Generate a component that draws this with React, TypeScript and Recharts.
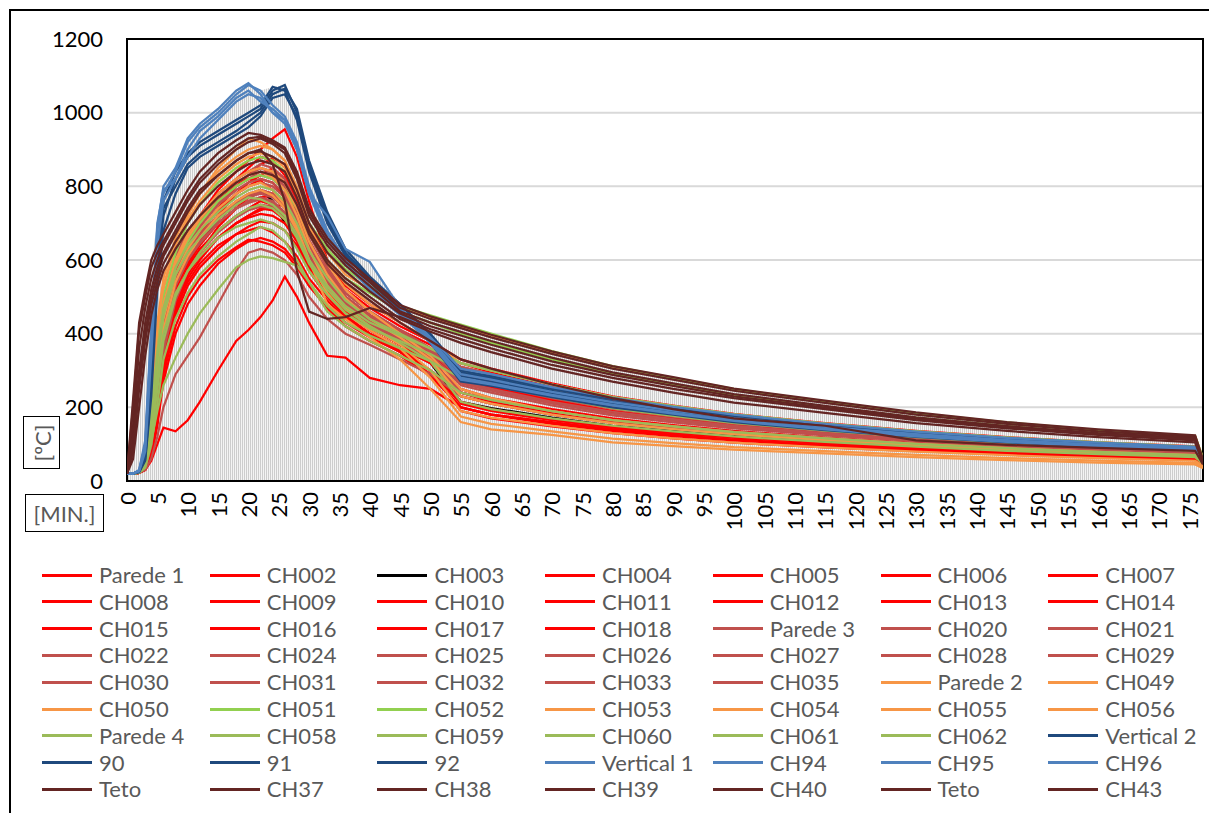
import React from 'react';
import { ComposedChart, Line, Area, XAxis, YAxis, CartesianGrid, Legend, ReferenceArea } from 'recharts';

// time in minutes
const T = [0, 1, 2, 3, 4, 5, 6, 8, 10, 12, 15, 18, 20, 22, 24, 26, 28, 30, 33, 36, 40, 45, 50, 55, 60, 70, 80, 90, 100, 115, 130, 145, 160, 176, 177.3];

const yTicks = [0, 200, 400, 600, 800, 1000, 1200];
const xTicks = [0, 5, 10, 15, 20, 25, 30, 35, 40, 45, 50, 55, 60, 65, 70, 75, 80, 85, 90, 95, 100, 105, 110, 115, 120, 125, 130, 135, 140, 145, 150, 155, 160, 165, 170, 175];

// ---- red family ----
const parede1 = [20, 20, 22, 30, 55, 100, 145, 135, 165, 215, 300, 380, 410, 445, 490, 555, 500, 430, 340, 335, 280, 260, 250, 200, 180, 160, 140, 125, 112, 98, 85, 75, 66, 58, 45];
const ch002 = [20, 20, 25, 45, 120, 260, 400, 560, 660, 720, 790, 840, 870, 900, 930, 955, 880, 760, 600, 520, 470, 420, 380, 300, 270, 230, 200, 180, 160, 140, 120, 105, 95, 85, 60];
const ch003 = [20, 20, 24, 42, 120, 260, 390, 520, 600, 650, 710, 750, 770, 790, 760, 700, 660, 600, 520, 465, 420, 370, 320, 215, 198, 172, 150, 136, 122, 106, 93, 82, 73, 65, 48];
const ch004 = [20, 20, 24, 40, 110, 240, 380, 540, 640, 700, 760, 820, 850, 880, 870, 830, 760, 680, 580, 500, 450, 400, 350, 270, 250, 215, 185, 165, 150, 130, 112, 98, 88, 78, 55];
const ch005 = [20, 21, 25, 50, 150, 300, 430, 560, 630, 680, 730, 780, 810, 830, 850, 820, 740, 650, 560, 490, 440, 390, 330, 230, 210, 180, 160, 145, 130, 115, 100, 88, 78, 70, 50];
const ch006 = [20, 20, 23, 35, 90, 200, 330, 480, 580, 650, 720, 780, 800, 820, 810, 770, 700, 620, 530, 470, 420, 370, 320, 240, 215, 185, 165, 148, 132, 116, 102, 90, 80, 71, 52];
const ch007 = [20, 20, 22, 30, 70, 160, 290, 450, 560, 620, 690, 740, 770, 790, 780, 750, 690, 610, 520, 460, 410, 360, 300, 210, 190, 165, 145, 130, 118, 104, 92, 81, 72, 64, 48];
const ch008 = [20, 20, 24, 45, 130, 270, 400, 520, 590, 640, 700, 740, 760, 770, 775, 760, 700, 620, 530, 470, 420, 370, 320, 250, 225, 195, 170, 152, 136, 118, 103, 91, 81, 72, 52];
const ch009 = [20, 20, 23, 38, 100, 220, 360, 500, 580, 630, 680, 720, 740, 760, 750, 720, 670, 600, 540, 490, 450, 410, 370, 320, 295, 255, 220, 196, 176, 152, 132, 116, 103, 92, 62];
const ch010 = [20, 20, 22, 32, 80, 180, 310, 460, 550, 600, 660, 700, 720, 740, 735, 710, 660, 590, 510, 450, 400, 350, 290, 200, 180, 158, 140, 125, 112, 98, 87, 77, 68, 61, 46];
const ch011 = [20, 20, 25, 48, 140, 280, 400, 510, 570, 610, 660, 700, 715, 725, 720, 700, 650, 580, 510, 460, 420, 380, 340, 290, 270, 230, 200, 178, 160, 138, 120, 105, 93, 83, 58];
const ch012 = [20, 20, 22, 34, 85, 190, 320, 450, 530, 580, 630, 670, 690, 705, 700, 680, 640, 570, 500, 445, 400, 355, 300, 215, 195, 168, 148, 132, 118, 103, 91, 80, 71, 63, 47];
const ch013 = [20, 20, 23, 36, 95, 210, 340, 470, 540, 590, 640, 670, 680, 690, 675, 650, 610, 550, 490, 440, 400, 360, 320, 275, 255, 220, 190, 170, 152, 132, 115, 101, 90, 80, 56];
const ch014 = [20, 20, 22, 30, 65, 150, 270, 400, 480, 530, 590, 630, 650, 660, 650, 630, 590, 530, 470, 420, 380, 340, 285, 200, 180, 155, 136, 122, 110, 96, 85, 75, 67, 60, 45];
const ch015 = [20, 20, 22, 32, 75, 170, 290, 420, 500, 550, 600, 635, 655, 650, 640, 620, 580, 530, 475, 430, 390, 350, 300, 240, 220, 190, 165, 148, 133, 116, 101, 89, 79, 70, 50];
const ch016 = [20, 20, 24, 42, 120, 250, 390, 530, 610, 670, 740, 800, 830, 860, 875, 860, 790, 700, 600, 530, 480, 430, 380, 330, 305, 265, 230, 205, 182, 157, 136, 119, 105, 94, 64];
const ch017 = [20, 20, 25, 52, 160, 320, 450, 570, 640, 690, 760, 810, 820, 815, 790, 750, 690, 610, 520, 460, 410, 360, 300, 190, 170, 148, 130, 116, 104, 91, 81, 72, 64, 57, 44];
const ch018 = [20, 20, 23, 38, 100, 220, 350, 480, 560, 610, 660, 700, 720, 735, 745, 750, 700, 630, 550, 490, 440, 400, 350, 280, 255, 220, 190, 170, 152, 132, 115, 101, 90, 80, 56];

// ---- dusty red family ----
const parede3 = [20, 20, 22, 30, 60, 120, 200, 290, 340, 390, 480, 570, 620, 630, 620, 600, 560, 500, 440, 400, 370, 330, 290, 230, 210, 180, 158, 142, 127, 110, 96, 85, 75, 67, 50];
const ch020 = [20, 20, 25, 50, 160, 320, 460, 590, 660, 710, 770, 810, 830, 850, 840, 810, 750, 670, 580, 510, 460, 410, 360, 300, 280, 240, 210, 188, 168, 146, 127, 111, 99, 88, 60];
const ch021 = [20, 20, 24, 45, 140, 290, 430, 560, 630, 680, 740, 780, 800, 810, 800, 770, 710, 630, 550, 490, 440, 400, 355, 310, 290, 250, 218, 195, 174, 150, 130, 114, 101, 90, 62];
const ch022 = [20, 20, 26, 60, 190, 360, 490, 610, 680, 720, 780, 820, 840, 850, 835, 800, 730, 650, 560, 500, 450, 410, 360, 300, 275, 238, 207, 185, 165, 143, 124, 109, 97, 86, 59];
const ch024 = [20, 20, 23, 40, 120, 260, 400, 530, 600, 650, 700, 740, 760, 770, 760, 730, 680, 610, 540, 480, 430, 390, 340, 270, 250, 215, 188, 168, 150, 130, 113, 99, 88, 78, 55];
const ch025 = [20, 20, 24, 44, 135, 280, 420, 550, 620, 660, 710, 750, 770, 780, 770, 740, 690, 620, 540, 480, 430, 385, 330, 240, 220, 190, 166, 149, 134, 117, 102, 90, 80, 71, 51];
const ch026 = [20, 20, 25, 55, 170, 330, 460, 580, 650, 700, 760, 800, 820, 830, 820, 790, 730, 650, 570, 500, 450, 400, 350, 280, 260, 225, 196, 175, 156, 135, 117, 103, 91, 81, 57];
const ch027 = [20, 20, 22, 35, 95, 210, 350, 490, 570, 620, 680, 720, 740, 750, 745, 720, 670, 600, 530, 475, 430, 390, 345, 300, 280, 245, 214, 191, 171, 148, 128, 112, 99, 88, 60];
const ch028 = [20, 20, 24, 48, 150, 300, 440, 570, 640, 690, 750, 790, 810, 820, 810, 780, 720, 640, 560, 495, 445, 400, 350, 290, 270, 232, 202, 180, 161, 139, 121, 106, 94, 84, 58];
const ch029 = [20, 20, 25, 52, 160, 310, 450, 570, 630, 670, 720, 760, 780, 790, 780, 750, 700, 625, 545, 485, 435, 390, 340, 260, 240, 205, 178, 159, 143, 124, 108, 95, 84, 75, 53];
const ch030 = [20, 20, 23, 42, 125, 265, 400, 530, 600, 645, 700, 740, 755, 765, 755, 725, 675, 605, 535, 478, 430, 385, 335, 265, 245, 210, 183, 164, 147, 128, 111, 97, 86, 77, 54];
const ch031 = [20, 20, 26, 58, 180, 340, 470, 590, 660, 710, 780, 820, 840, 860, 850, 820, 750, 670, 580, 510, 460, 410, 360, 310, 290, 250, 218, 195, 174, 150, 130, 114, 101, 90, 62];
const ch032 = [20, 20, 24, 46, 140, 285, 420, 545, 615, 660, 715, 755, 775, 785, 775, 745, 695, 620, 545, 485, 435, 390, 345, 290, 270, 232, 202, 180, 161, 139, 121, 106, 94, 84, 58];
const ch033 = [20, 20, 22, 36, 100, 220, 360, 495, 570, 620, 675, 715, 735, 745, 740, 715, 665, 595, 525, 470, 425, 380, 330, 240, 220, 190, 165, 148, 133, 116, 101, 89, 79, 70, 50];
const ch035 = [20, 20, 25, 50, 155, 305, 445, 575, 645, 695, 755, 800, 820, 840, 830, 800, 740, 655, 565, 500, 450, 405, 355, 290, 270, 233, 203, 181, 162, 140, 122, 107, 95, 85, 59];

// ---- orange family ----
const parede2 = [20, 20, 28, 80, 260, 430, 550, 660, 730, 780, 840, 880, 900, 910, 900, 870, 800, 700, 620, 560, 520, 470, 445, 420, 395, 350, 310, 278, 248, 215, 182, 157, 137, 122, 62];
const ch049 = [20, 20, 26, 65, 220, 390, 520, 640, 720, 780, 850, 900, 930, 920, 900, 870, 790, 690, 590, 520, 460, 400, 340, 250, 225, 190, 165, 148, 133, 116, 101, 89, 79, 70, 50];
const ch050 = [20, 20, 24, 48, 150, 300, 440, 560, 630, 680, 740, 780, 800, 810, 790, 750, 690, 600, 480, 440, 390, 330, 250, 160, 140, 125, 105, 95, 85, 75, 65, 57, 50, 45, 35];
const ch053 = [20, 20, 25, 55, 180, 340, 470, 590, 660, 710, 770, 810, 830, 840, 825, 790, 720, 630, 530, 470, 420, 370, 300, 190, 172, 150, 130, 116, 104, 91, 80, 70, 62, 55, 42];
const ch054 = [20, 20, 23, 42, 130, 270, 410, 540, 610, 660, 720, 760, 780, 790, 775, 740, 680, 600, 510, 455, 410, 360, 280, 175, 155, 135, 115, 103, 92, 81, 71, 62, 55, 49, 38];
const ch055 = [20, 20, 27, 70, 240, 410, 530, 640, 710, 760, 820, 860, 880, 890, 880, 850, 780, 690, 600, 535, 480, 430, 380, 320, 300, 262, 228, 203, 181, 156, 135, 118, 105, 93, 63];
const ch056 = [20, 20, 25, 58, 190, 350, 480, 600, 670, 720, 780, 820, 840, 850, 840, 810, 740, 650, 560, 495, 440, 390, 330, 230, 210, 180, 157, 141, 127, 111, 97, 85, 76, 67, 48];

// ---- light green ----
const ch051 = [20, 20, 26, 62, 200, 370, 500, 620, 700, 750, 810, 850, 870, 880, 870, 840, 780, 700, 630, 575, 530, 475, 450, 425, 400, 353, 312, 280, 250, 216, 184, 159, 138, 122, 62];
const ch052 = [20, 20, 24, 50, 160, 320, 450, 580, 650, 700, 760, 800, 820, 830, 820, 790, 740, 670, 600, 550, 510, 460, 430, 400, 375, 330, 292, 262, 234, 202, 172, 149, 130, 115, 58];

// ---- olive green ----
const parede4 = [20, 20, 23, 40, 110, 190, 260, 335, 400, 455, 520, 580, 600, 610, 605, 595, 585, 540, 460, 420, 380, 340, 300, 240, 220, 190, 165, 148, 133, 116, 101, 89, 79, 70, 50];
const ch058 = [20, 20, 25, 55, 170, 330, 450, 560, 620, 660, 710, 750, 770, 765, 750, 720, 670, 600, 530, 475, 430, 395, 360, 320, 300, 262, 228, 203, 181, 156, 135, 118, 105, 93, 63];
const ch059 = [20, 20, 24, 46, 140, 280, 400, 510, 570, 610, 660, 690, 700, 710, 700, 680, 630, 570, 505, 455, 415, 380, 345, 300, 282, 245, 213, 190, 170, 147, 127, 111, 99, 88, 60];
const ch060 = [20, 20, 22, 36, 100, 210, 330, 440, 510, 560, 610, 650, 670, 690, 680, 650, 600, 540, 475, 430, 395, 360, 325, 280, 262, 228, 198, 177, 158, 137, 119, 104, 93, 82, 57];
const ch061 = [20, 20, 26, 60, 190, 350, 470, 580, 640, 680, 730, 770, 790, 800, 790, 760, 700, 625, 550, 490, 440, 400, 360, 320, 300, 262, 228, 203, 181, 156, 135, 118, 105, 93, 63];
const ch062 = [20, 20, 23, 42, 120, 250, 380, 500, 570, 620, 680, 720, 740, 750, 740, 710, 660, 590, 520, 465, 420, 375, 325, 215, 195, 170, 150, 135, 121, 106, 93, 82, 73, 65, 48];

// ---- dark blue ----
const vertical2 = [20, 20, 25, 60, 260, 560, 720, 820, 880, 910, 940, 970, 990, 1010, 1060, 1075, 1000, 860, 720, 620, 550, 480, 400, 300, 285, 250, 222, 198, 176, 152, 132, 116, 103, 92, 60];
const s90 = [20, 20, 27, 75, 320, 620, 760, 840, 890, 920, 950, 980, 1000, 1020, 1070, 1060, 980, 840, 700, 610, 545, 470, 385, 285, 270, 238, 210, 188, 168, 145, 126, 110, 98, 88, 57];
const s91 = [20, 20, 24, 55, 230, 520, 680, 780, 850, 880, 910, 940, 960, 990, 1040, 1050, 990, 850, 710, 615, 540, 465, 375, 270, 258, 228, 200, 180, 160, 138, 120, 105, 93, 84, 55];
const s92 = [20, 20, 26, 68, 290, 590, 740, 800, 860, 890, 920, 950, 975, 1000, 1050, 1065, 1010, 870, 730, 630, 555, 480, 395, 295, 280, 245, 216, 193, 172, 149, 129, 113, 100, 90, 58];

// ---- blue ----
const vertical1 = [20, 20, 30, 110, 420, 700, 790, 820, 900, 950, 990, 1040, 1060, 1030, 1010, 980, 900, 780, 720, 630, 595, 470, 390, 305, 290, 255, 226, 201, 180, 155, 134, 117, 104, 93, 60];
const ch94 = [20, 20, 28, 95, 380, 680, 780, 840, 920, 960, 1000, 1050, 1075, 1060, 1020, 990, 920, 800, 680, 600, 530, 460, 385, 290, 275, 242, 214, 191, 171, 147, 127, 111, 99, 89, 58];
const ch95 = [20, 20, 26, 80, 340, 640, 760, 820, 880, 930, 980, 1030, 1050, 1040, 1000, 970, 900, 780, 660, 590, 520, 450, 380, 280, 265, 234, 207, 185, 165, 142, 123, 108, 96, 86, 56];
const ch96 = [20, 20, 29, 100, 400, 690, 800, 850, 930, 970, 1010, 1060, 1080, 1050, 1000, 980, 910, 790, 670, 595, 525, 455, 375, 275, 262, 232, 205, 183, 163, 140, 121, 106, 94, 85, 55];

// ---- brown ----
const teto1 = [20, 200, 410, 500, 580, 620, 650, 710, 770, 820, 870, 910, 930, 935, 920, 900, 830, 730, 650, 595, 540, 470, 440, 415, 390, 345, 305, 275, 245, 212, 180, 155, 135, 120, 55];
const ch37 = [20, 150, 360, 470, 550, 600, 640, 700, 760, 810, 860, 900, 920, 930, 915, 890, 820, 720, 640, 585, 530, 460, 430, 405, 380, 335, 295, 265, 236, 204, 173, 149, 130, 116, 52];
const ch38 = [20, 120, 300, 430, 520, 580, 620, 680, 740, 790, 830, 870, 890, 900, 860, 760, 570, 460, 440, 445, 470, 445, 412, 385, 360, 315, 280, 250, 225, 195, 165, 143, 125, 110, 50];
const ch39 = [20, 100, 280, 400, 500, 560, 610, 670, 730, 780, 830, 870, 890, 895, 880, 860, 790, 700, 620, 570, 515, 455, 420, 395, 370, 325, 288, 258, 230, 199, 169, 146, 128, 113, 50];
const ch40 = [20, 80, 250, 380, 480, 540, 590, 650, 700, 750, 800, 840, 860, 870, 860, 840, 770, 680, 600, 550, 500, 440, 405, 375, 350, 305, 270, 240, 213, 185, 157, 136, 119, 105, 48];
const teto2 = [20, 220, 430, 520, 600, 640, 670, 730, 790, 840, 890, 925, 945, 940, 925, 905, 840, 740, 660, 605, 548, 478, 447, 422, 397, 352, 312, 282, 251, 218, 186, 160, 140, 124, 58];
const ch43 = [20, 60, 200, 340, 450, 520, 570, 630, 680, 720, 770, 810, 830, 840, 830, 810, 750, 670, 590, 540, 490, 430, 380, 330, 305, 262, 225, 195, 170, 150, 110, 98, 90, 82, 45];

const RED = '#FF0000';
const BLACK = '#000000';
const DRED = '#C0504D';
const ORANGE = '#F79646';
const LGREEN = '#92D050';
const OLIVE = '#9BBB59';
const DBLUE = '#1F497D';
const BLUE = '#4F81BD';
const BROWN = '#632523';

const SERIES = [
  { name: 'Parede 1', color: RED, values: parede1 },
  { name: 'CH002', color: RED, values: ch002 },
  { name: 'CH003', color: BLACK, values: ch003 },
  { name: 'CH004', color: RED, values: ch004 },
  { name: 'CH005', color: RED, values: ch005 },
  { name: 'CH006', color: RED, values: ch006 },
  { name: 'CH007', color: RED, values: ch007 },
  { name: 'CH008', color: RED, values: ch008 },
  { name: 'CH009', color: RED, values: ch009 },
  { name: 'CH010', color: RED, values: ch010 },
  { name: 'CH011', color: RED, values: ch011 },
  { name: 'CH012', color: RED, values: ch012 },
  { name: 'CH013', color: RED, values: ch013 },
  { name: 'CH014', color: RED, values: ch014 },
  { name: 'CH015', color: RED, values: ch015 },
  { name: 'CH016', color: RED, values: ch016 },
  { name: 'CH017', color: RED, values: ch017 },
  { name: 'CH018', color: RED, values: ch018 },
  { name: 'Parede 3', color: DRED, values: parede3 },
  { name: 'CH020', color: DRED, values: ch020 },
  { name: 'CH021', color: DRED, values: ch021 },
  { name: 'CH022', color: DRED, values: ch022 },
  { name: 'CH024', color: DRED, values: ch024 },
  { name: 'CH025', color: DRED, values: ch025 },
  { name: 'CH026', color: DRED, values: ch026 },
  { name: 'CH027', color: DRED, values: ch027 },
  { name: 'CH028', color: DRED, values: ch028 },
  { name: 'CH029', color: DRED, values: ch029 },
  { name: 'CH030', color: DRED, values: ch030 },
  { name: 'CH031', color: DRED, values: ch031 },
  { name: 'CH032', color: DRED, values: ch032 },
  { name: 'CH033', color: DRED, values: ch033 },
  { name: 'CH035', color: DRED, values: ch035 },
  { name: 'Parede 2', color: ORANGE, values: parede2 },
  { name: 'CH049', color: ORANGE, values: ch049 },
  { name: 'CH050', color: ORANGE, values: ch050 },
  { name: 'CH051', color: LGREEN, values: ch051 },
  { name: 'CH052', color: LGREEN, values: ch052 },
  { name: 'CH053', color: ORANGE, values: ch053 },
  { name: 'CH054', color: ORANGE, values: ch054 },
  { name: 'CH055', color: ORANGE, values: ch055 },
  { name: 'CH056', color: ORANGE, values: ch056 },
  { name: 'Parede 4', color: OLIVE, values: parede4 },
  { name: 'CH058', color: OLIVE, values: ch058 },
  { name: 'CH059', color: OLIVE, values: ch059 },
  { name: 'CH060', color: OLIVE, values: ch060 },
  { name: 'CH061', color: OLIVE, values: ch061 },
  { name: 'CH062', color: OLIVE, values: ch062 },
  { name: 'Vertical 2', color: DBLUE, values: vertical2 },
  { name: '90', color: DBLUE, values: s90 },
  { name: '91', color: DBLUE, values: s91 },
  { name: '92', color: DBLUE, values: s92 },
  { name: 'Vertical 1', color: BLUE, values: vertical1 },
  { name: 'CH94', color: BLUE, values: ch94 },
  { name: 'CH95', color: BLUE, values: ch95 },
  { name: 'CH96', color: BLUE, values: ch96 },
  { name: 'Teto', color: BROWN, values: teto1 },
  { name: 'CH37', color: BROWN, values: ch37 },
  { name: 'CH38', color: BROWN, values: ch38 },
  { name: 'CH39', color: BROWN, values: ch39 },
  { name: 'CH40', color: BROWN, values: ch40 },
  { name: 'Teto', color: BROWN, values: teto2 },
  { name: 'CH43', color: BROWN, values: ch43 },
];

const rows = T.map((t, i) => {
  const r: any = { t };
  let m = 0;
  SERIES.forEach((s, k) => {
    r['s' + k] = s.values[i];
    if (s.values[i] > m) m = s.values[i];
  });
  r.env = m;
  return r;
});

const FONT = 'Lato, "Open Sans", sans-serif';

function XTick(props: any) {
  const { x, y, payload } = props;
  return (
    <text
      x={x}
      y={y}
      transform={`rotate(-90, ${x}, ${y})`}
      textAnchor="end"
      dominantBaseline="central"
      fontFamily={FONT}
      fontSize={22}
      fill="#000"
    >
      {payload.value}
    </text>
  );
}

function LegendGrid() {
  return (
    <div style={{ position: 'relative', width: 1209, height: 0 }}>
      {SERIES.map((s, i) => {
        const col = i % 7;
        const row = Math.floor(i / 7);
        return (
          <div
            key={i}
            style={{
              position: 'absolute',
              left: 42 + col * 167.7,
              top: 575 + row * 26.8 - 14,
              height: 28,
              display: 'flex',
              alignItems: 'center',
              whiteSpace: 'nowrap',
            }}
          >
            <span style={{ display: 'inline-block', width: 50, height: 3, background: s.color }} />
            <span style={{ marginLeft: 7, fontFamily: FONT, fontSize: 22, color: '#595959', lineHeight: '28px' }}>
              {s.name}
            </span>
          </div>
        );
      })}
    </div>
  );
}

export default function App() {
  return (
    <div style={{ position: 'absolute', left: 0, top: 0, width: 1209, height: 813, overflow: 'hidden', background: '#fff' }}>
      <svg width={0} height={0} style={{ position: 'absolute' }}>
        <defs>
          <pattern id="dropLines" patternUnits="userSpaceOnUse" width={2} height={10}>
            <rect x={0} y={0} width={2} height={10} fill="#f4f4f4" />
            <rect x={0} y={0} width={1} height={10} fill="#cdcdcd" />
          </pattern>
        </defs>
      </svg>
      <div style={{ position: 'absolute', left: 9, top: 9, width: 1300, height: 900, border: '2px solid #000' }} />
      <div style={{ position: 'absolute', left: 0, top: 0 }}>
        <ComposedChart width={1209} height={813} data={rows} margin={{ top: 39, right: 6, left: 0, bottom: 272 }}>
          <CartesianGrid vertical={false} stroke="#d9d9d9" strokeWidth={2} />
          <XAxis
            dataKey="t"
            type="number"
            domain={[0, 177.3]}
            ticks={xTicks}
            interval={0}
            allowDataOverflow
            height={60}
            tickLine={false}
            tickSize={0}
            tickMargin={11}
            axisLine={false}
            tick={<XTick />}
          />
          <YAxis
            type="number"
            domain={[0, 1200]}
            ticks={yTicks}
            interval={0}
            width={127}
            tickLine={false}
            tickSize={0}
            tickMargin={24}
            axisLine={false}
            tick={{ fontFamily: FONT, fontSize: 22, fill: '#000' }}
          />
          <Area
            dataKey="env"
            type="linear"
            fill="url(#dropLines)"
            fillOpacity={1}
            stroke="none"
            isAnimationActive={false}
            legendType="none"
            activeDot={false}
          />
          {SERIES.map((s, k) => (
            <Line
              key={k}
              dataKey={'s' + k}
              name={s.name}
              stroke={s.color}
              strokeWidth={2.25}
              dot={false}
              activeDot={false}
              type="linear"
              isAnimationActive={false}
            />
          ))}
          <ReferenceArea x1={0} x2={177.3} y1={0} y2={1200} fill="none" stroke="#000" strokeWidth={2} ifOverflow="visible" />
          <Legend
            content={() => <LegendGrid />}
            wrapperStyle={{ position: 'absolute', left: 0, top: 0, width: 1209, height: 0, overflow: 'visible' }}
          />
        </ComposedChart>
      </div>
      <div
        style={{
          position: 'absolute',
          left: 23,
          top: 416,
          width: 35,
          height: 51,
          border: '1.5px solid #000',
        }}
      >
        <div
          style={{
            position: 'absolute',
            left: '50%',
            top: '50%',
            transform: 'translate(-50%, -50%) rotate(-90deg)',
            fontFamily: FONT,
            fontSize: 22,
            color: '#595959',
            whiteSpace: 'nowrap',
          }}
        >
          [ºC]
        </div>
      </div>
      <div
        style={{
          position: 'absolute',
          left: 25,
          top: 494,
          width: 77,
          height: 36,
          border: '1.5px solid #000',
          display: 'flex',
          alignItems: 'center',
          justifyContent: 'center',
          fontFamily: FONT,
          fontSize: 22,
          color: '#595959',
        }}
      >
        [MIN.]
      </div>
    </div>
  );
}
